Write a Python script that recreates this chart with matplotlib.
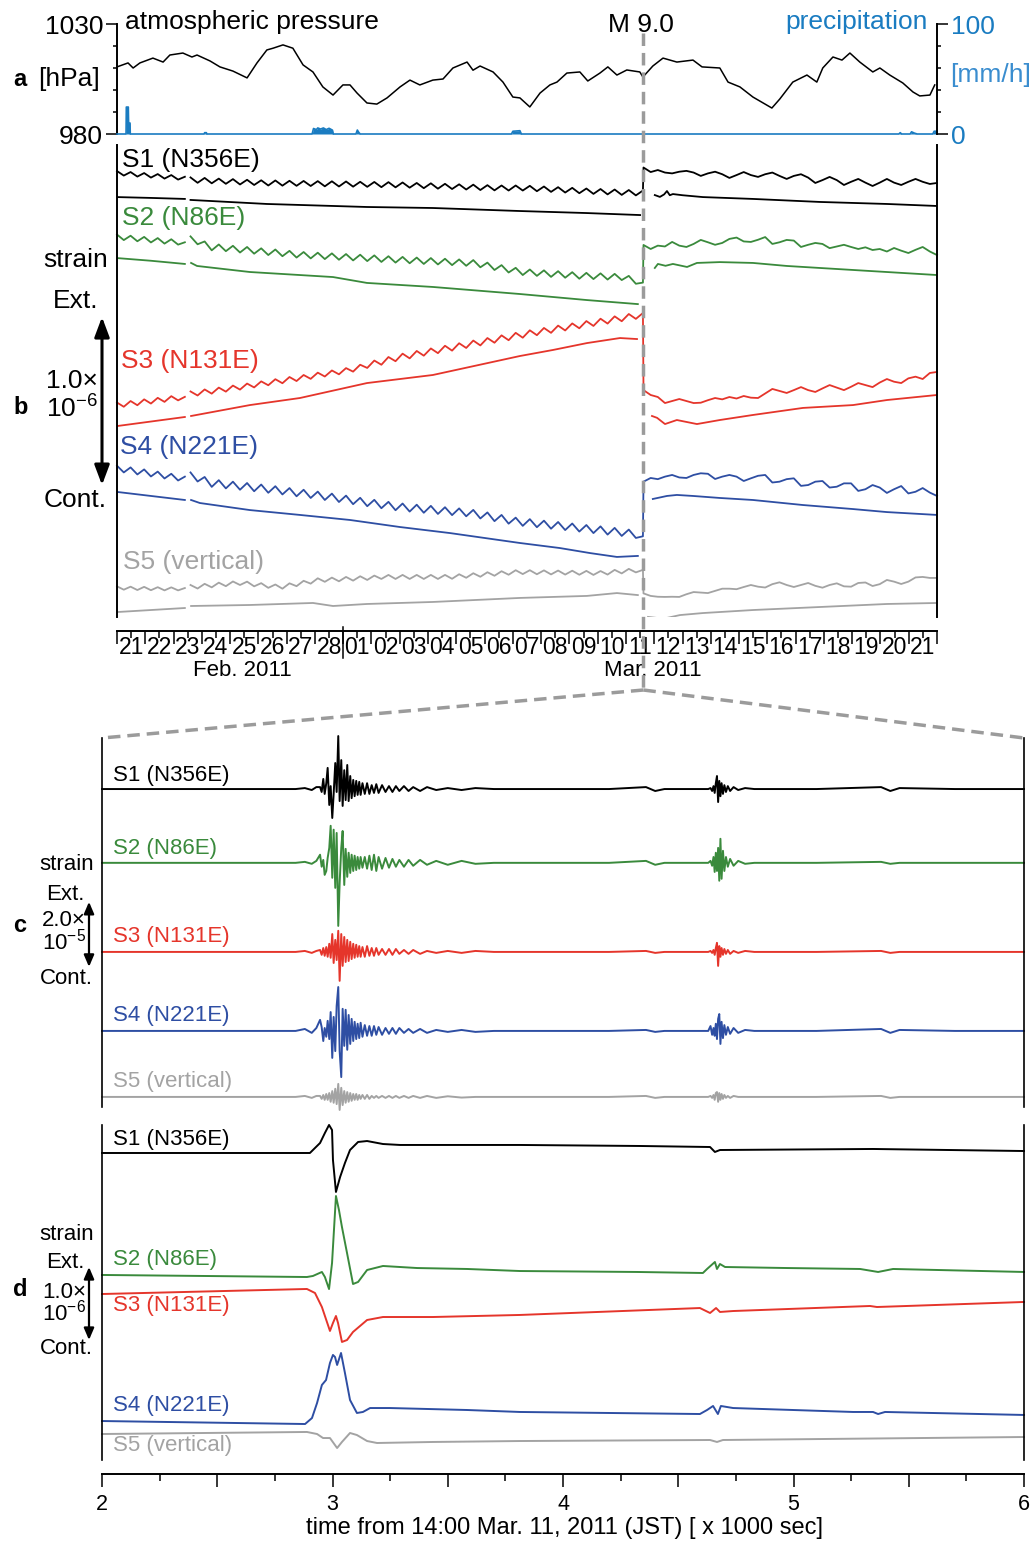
import numpy as np
import matplotlib
matplotlib.use("Agg")
import matplotlib.pyplot as plt
from matplotlib.lines import Line2D
import matplotlib.transforms as mtransforms

plt.rcParams["font.family"] = ["Liberation Sans", "DejaVu Sans"]
plt.rcParams["mathtext.fontset"] = "custom"
plt.rcParams["mathtext.rm"] = "Liberation Sans"
plt.rcParams["mathtext.it"] = "Liberation Sans:italic"
plt.rcParams["mathtext.bf"] = "Liberation Sans:bold"
plt.rcParams["lines.scale_dashes"] = False
plt.rcParams["axes.linewidth"] = 1.4

nan = float("nan")

# ---------------- data ----------------
# time origin of panels a/b: 00:00 Feb. 21, 2011 (days)
EQ_DAY = 18 + (14 + 46 / 60 + 18 / 3600) / 24   # M9.0, 14:46:18 JST Mar. 11

DAY_LABELS = ["21", "22", "23", "24", "25", "26", "27", "28", "01", "02",
              "03", "04", "05", "06", "07", "08", "09", "10", "11", "12",
              "13", "14", "15", "16", "17", "18", "19", "20", "21"]

NAMES = ["S1 (N356E)", "S2 (N86E)", "S3 (N131E)", "S4 (N221E)", "S5 (vertical)"]
COLORS = ["black", "#3a8a3c", "#e5352b", "#2e4ea3", "#a3a3a3"]
BLUE = "#1a7cc1"

# panel a: atmospheric pressure [hPa]
PRESS_DAY = [0, 0.39, 0.57, 0.81, 1.27, 1.63, 1.87, 2.33, 2.65, 2.83,
             3.29, 3.64, 4.10, 4.60, 4.95, 5.30, 5.52, 5.87, 6.22, 6.58,
             6.93, 7.28, 7.64, 7.99, 8.24, 8.49, 8.84, 9.19, 9.55, 10.01,
             10.36, 10.71, 11.17, 11.53, 11.88, 12.38, 12.59, 12.84, 13.30, 13.65,
             14.00, 14.25, 14.60, 14.96, 15.31, 15.56, 15.91, 16.37, 16.65, 17.08,
             17.36, 17.68, 18.03, 18.49, 18.60, 18.95, 19.31, 19.80, 20.37, 20.69,
             21.32, 21.61, 22.03, 22.49, 23.16, 23.44, 23.90, 24.40, 24.75, 24.96,
             25.32, 25.64, 25.92, 26.27, 26.73, 26.98, 27.33, 27.79, 28.15, 28.39,
             28.75, 28.92]
PRESS_HPA = [1010.5, 1012.3, 1010.0, 1012.3, 1014.5, 1012.7, 1015.9, 1016.8, 1015.0, 1015.9,
             1013.2, 1010.5, 1008.6, 1005.5, 1012.3, 1018.2, 1019.0, 1020.5, 1019.0, 1011.4,
             1008.2, 1001.4, 997.7, 1002.3, 1002.3, 998.6, 994.1, 993.6, 996.4, 1001.4,
             1004.5, 1002.3, 1004.5, 1005.0, 1010.0, 1012.7, 1009.0, 1010.9, 1008.2, 1003.6,
             996.8, 996.4, 992.3, 998.6, 1002.3, 1003.6, 1007.7, 1008.2, 1004.1, 1007.7,
             1010.5, 1006.8, 1009.1, 1008.2, 1005.9, 1010.9, 1014.5, 1012.7, 1013.6, 1010.5,
             1010.0, 1003.6, 1001.4, 996.8, 991.8, 995.9, 1003.6, 1006.8, 1003.6, 1010.0,
             1015.0, 1013.6, 1016.8, 1012.7, 1008.2, 1010.0, 1006.8, 1003.2, 999.1, 997.3,
             997.7, 1002.3]

# panel a: precipitation [mm/h]
PRECIP_DAY = [0.0, 0.32, 0.33, 0.40, 0.41, 0.46, 0.47, 3.08, 3.10, 3.16, 3.18,
              6.90, 6.95, 7.05, 7.10, 7.20, 7.30, 7.40, 7.50, 7.62, 7.65,
              8.45, 8.50, 8.55, 8.60, 13.95, 14.00, 14.25, 14.30,
              27.65, 27.70, 27.75, 28.05, 28.10, 28.20, 28.30, 28.85, 28.90, 29.0]
PRECIP_MM = [0, 0, 24.5, 24.5, 10, 10, 0, 0, 1.2, 1.2, 0,
             0, 5, 4, 5.5, 4.5, 5.5, 4, 5.2, 3.5, 0,
             0, 3.6, 1.5, 0, 0, 2.5, 3.0, 0,
             0, 1.2, 0, 0, 2.0, 0.8, 0, 0, 2.5, 2.5]

# panel b: strain [1e-8] sampled on three stretches (before the Feb. 23 gap,
# up to the quake, after the quake); raw (tidal) traces
DAY_A = np.linspace(0.0, 2.4, 11)
DAY_B = np.linspace(2.6, 18.6, 65)
DAY_C = np.linspace(18.62, 29.0, 42)

S1_UP_A = [271.4, 268.7, 270.8, 268.1, 270.2, 267.5, 269.6, 266.9, 269.0, 266.3, 268.0]
S1_UP_B = [267.6, 264.4, 267.3, 264.1, 266.9, 263.8, 266.6, 263.4, 266.2, 263.1,
           265.9, 262.8, 265.8, 262.7, 265.6, 262.6, 265.5, 262.5, 265.4, 262.3,
           265.3, 262.2, 265.2, 262.1, 265.0, 262.0, 264.9, 261.8, 264.8, 261.7,
           264.6, 261.5, 264.3, 261.2, 264.1, 260.9, 263.8, 260.7, 263.5, 260.4,
           263.3, 260.1, 263.0, 259.9, 262.8, 259.8, 262.8, 259.8, 262.6, 259.4,
           262.2, 259.0, 261.8, 258.6, 261.4, 258.2, 261.0, 257.8, 260.7, 257.5,
           260.4, 257.2, 260.1, 256.9, 259.8]
S1_UP_C = [273.5, 270.8, 272.0, 270.5, 270.0, 271.0, 271.5, 270.5, 268.5, 270.0,
           271.0, 269.5, 267.3, 269.0, 270.8, 269.0, 267.9, 269.5, 270.5, 268.5,
           266.7, 268.5, 269.5, 267.5, 264.3, 266.0, 267.9, 266.0, 263.1, 265.0,
           266.7, 264.5, 262.5, 264.5, 266.7, 264.5, 263.1, 265.0, 266.7, 265.0,
           263.7, 264.3]

S2_UP_A = [233.6, 230.3, 232.9, 229.6, 232.2, 228.9, 231.5, 228.2, 230.8, 227.6, 229.0]
S2_UP_B = [232.5, 227.8, 229.5, 224.2, 227.7, 223.7, 226.9, 222.9, 226.2, 222.2,
           225.4, 221.4, 224.7, 220.7, 223.9, 219.9, 223.2, 219.4, 222.8, 219.0,
           222.4, 218.6, 222.0, 218.2, 221.6, 217.8, 221.2, 217.3, 220.7, 216.9,
           220.3, 216.5, 219.9, 216.1, 219.6, 215.8, 219.2, 215.4, 218.8, 215.0,
           218.4, 214.1, 216.9, 212.5, 215.4, 211.0, 213.8, 209.5, 212.8, 209.0,
           212.3, 208.4, 211.8, 207.9, 211.2, 207.3, 210.8, 207.1, 210.5, 206.8,
           210.2, 206.5, 209.0, 204.3, 205.0]
S2_UP_C = [227.4, 225.0, 227.0, 226.5, 229.2, 227.0, 226.2, 228.0, 230.4, 229.0,
           227.5, 228.6, 231.0, 231.8, 229.5, 229.2, 230.5, 232.1, 228.0, 229.0,
           230.4, 230.0, 226.2, 227.5, 228.6, 228.0, 225.5, 226.5, 227.5, 226.2,
           225.0, 226.0, 224.4, 225.0, 223.5, 225.6, 224.0, 222.6, 224.5, 226.2,
           223.5, 221.4]

S3_UP_A = [133.6, 131.1, 134.5, 132.0, 135.5, 133.0, 136.4, 134.0, 137.4, 134.9, 137.0]
S3_UP_B = [140.2, 137.8, 141.4, 138.9, 142.5, 140.1, 143.7, 141.3, 144.9, 142.6,
           146.2, 143.9, 147.5, 145.1, 148.8, 146.4, 150.0, 147.7, 151.4, 149.1,
           152.7, 150.4, 154.1, 152.0, 156.1, 154.2, 158.6, 156.1, 160.7, 158.2,
           162.7, 159.9, 164.3, 161.5, 165.8, 163.0, 167.4, 164.5, 168.9, 166.1,
           170.5, 167.6, 172.0, 169.2, 173.6, 170.7, 175.1, 172.2, 176.6, 173.7,
           178.0, 175.1, 179.4, 176.5, 180.7, 177.8, 182.1, 179.2, 183.5, 180.6,
           184.9, 182.0, 186.3, 183.4, 186.9]
S3_UP_C = [141.0, 138.1, 136.9, 133.3, 134.5, 135.7, 134.5, 133.3, 133.5, 135.0,
           136.3, 135.5, 136.9, 136.0, 137.5, 136.5, 136.3, 139.0, 141.7, 140.5,
           139.3, 141.0, 142.8, 141.0, 139.9, 142.0, 144.0, 142.5, 141.0, 143.0,
           145.2, 144.0, 142.8, 145.5, 147.6, 146.0, 145.2, 148.0, 149.0, 147.6,
           151.2, 151.8]

S4_UP_A = [96.0, 92.0, 95.0, 90.8, 93.8, 89.6, 92.5, 88.4, 91.2, 87.2, 89.5]
S4_UP_B = [92.0, 86.6, 89.3, 83.4, 87.4, 82.5, 86.5, 81.7, 85.7, 80.8,
           84.8, 79.9, 83.8, 78.9, 82.7, 77.8, 81.7, 76.8, 80.6, 75.6,
           79.4, 74.4, 78.2, 73.1, 76.9, 71.9, 75.7, 70.7, 74.5, 69.5,
           73.5, 68.7, 72.8, 68.0, 72.1, 67.3, 71.3, 66.6, 70.6, 65.9,
           69.7, 64.6, 68.2, 63.0, 66.7, 61.5, 65.1, 60.2, 64.2, 59.4,
           63.3, 58.5, 62.5, 57.7, 61.6, 56.8, 60.7, 55.9, 59.9, 55.0,
           59.0, 54.2, 58.0, 53.0, 54.0]
S4_UP_C = [86.5, 88.7, 88.0, 89.5, 90.5, 89.0, 88.7, 90.5, 91.5, 91.2,
           88.1, 89.5, 90.5, 89.5, 86.9, 88.5, 90.0, 90.5, 86.0, 86.5,
           88.0, 88.5, 84.0, 84.5, 86.5, 86.9, 83.0, 83.5, 85.5, 85.5,
           81.0, 82.0, 84.5, 83.0, 79.8, 82.0, 83.9, 79.5, 80.5, 82.7,
           80.0, 78.0]

S5_UP_A = [24.2, 22.2, 24.0, 22.0, 23.9, 21.9, 23.7, 21.8, 23.6, 21.8, 23.2]
S5_UP_B = [25.0, 22.9, 25.7, 23.6, 26.4, 24.3, 27.1, 25.0, 27.0, 24.2,
           26.1, 23.3, 25.3, 22.8, 26.0, 24.3, 27.5, 25.8, 29.0, 26.9,
           29.4, 27.2, 29.8, 27.6, 30.2, 28.0, 30.6, 28.6, 31.0, 28.6,
           31.0, 28.6, 31.0, 28.6, 31.0, 28.6, 31.0, 28.7, 31.4, 29.3,
           32.0, 29.9, 32.6, 30.5, 33.2, 31.1, 33.8, 31.5, 33.8, 31.4,
           33.7, 31.3, 33.6, 31.2, 33.5, 31.1, 33.4, 31.0, 33.3, 31.2,
           34.0, 31.9, 34.6, 32.5, 34.0]
S5_UP_C = [20.0, 18.5, 18.0, 17.9, 18.0, 17.9, 19.5, 20.8, 20.5, 20.2,
           21.5, 22.8, 22.8, 22.5, 23.8, 25.0, 24.0, 23.5, 25.5, 26.6,
           25.0, 23.8, 25.0, 26.2, 24.5, 23.4, 25.0, 26.0, 24.2, 24.0,
           26.2, 26.5, 24.4, 25.5, 28.0, 27.0, 25.6, 27.0, 29.5, 29.8,
           29.2, 29.2]

# panel b: tide-corrected traces (nan = data gap)
S1_LO_DAY = [0.0, 1.2, 2.4, nan, 2.6, 5.3, 8.84, 11.17, 14.25, 16.6, 18.5, nan,
             19.02, 19.2, 19.35, 19.45, 19.55, 19.66, 20.0, 20.72, 22.49, 24.86, 27.23, 29.0]
S1_LO = [255.9, 255.4, 254.8, nan, 254.2, 251.8, 250.0, 249.4, 247.6, 246.4, 245.2, nan,
         257.1, 256.0, 257.5, 259.5, 257.0, 257.7, 257.0, 255.9, 254.8, 253.0, 251.8, 250.6]
S2_LO_DAY = [0.0, 1.2, 2.4, nan, 2.62, 2.83, 4.70, 7.64, 8.84, 11.17, 14.25, 16.62, 18.42, nan,
             19.02, 19.13, 19.4, 19.66, 20.16, 20.51, 21.32, 22.49, 23.69, 24.86, 26.63, 29.0]
S2_LO = [219.6, 218.0, 216.1, nan, 216.7, 214.9, 211.3, 208.3, 204.8, 202.4, 198.2, 194.6, 192.2, nan,
         213.7, 216.1, 215.0, 216.1, 214.3, 216.7, 217.2, 216.7, 214.9, 213.7, 211.9, 209.5]
S3_LO_DAY = [0.0, 1.2, 2.4, nan, 2.62, 4.70, 6.47, 8.84, 11.17, 14.25, 15.42, 16.62, 17.79, 18.39, nan,
             18.92, 19.1, 19.38, 19.80, 20.51, 21.32, 22.49, 24.26, 26.03, 27.23, 29.0]
S3_LO = [119.6, 122.3, 125.0, nan, 125.6, 132.1, 136.3, 145.2, 150.0, 161.3, 164.9, 169.0, 172.0, 171.4, nan,
         125.6, 124.5, 120.8, 123.2, 120.8, 123.2, 126.2, 130.4, 132.1, 135.1, 138.1]
S4_LO_DAY = [0.0, 1.2, 2.4, nan, 2.62, 2.93, 4.70, 6.47, 8.24, 10.01, 11.78, 14.25, 15.66, 16.73, 17.68, 18.42, nan,
             18.95, 19.45, 19.80, 20.37, 21.32, 22.49, 24.26, 26.03, 27.23, 29.0]
S4_LO = [80.4, 78.0, 75.6, nan, 75.6, 73.8, 69.6, 66.7, 63.7, 59.5, 55.9, 50.0, 47.0, 44.0, 41.7, 42.3, nan,
         76.2, 78.0, 78.6, 78.0, 76.8, 75.6, 72.6, 70.2, 68.4, 66.7]
S5_LO_DAY = [0.0, 1.2, 2.4, nan, 2.62, 4.70, 6.93, 7.64, 8.84, 11.17, 14.25, 16.62, 17.68, 18.42, nan,
             18.78, 19.09, 19.45, 19.91, 20.72, 22.49, 24.86, 27.23, 29.0]
S5_LO = [8.9, 10.1, 11.3, nan, 12.5, 13.1, 14.3, 12.5, 13.7, 14.9, 17.3, 18.5, 20.2, 19.0, nan,
         6.0, 5.4, 5.4, 7.1, 8.3, 10.1, 11.9, 13.7, 14.3]

UP = [(S1_UP_A, S1_UP_B, S1_UP_C), (S2_UP_A, S2_UP_B, S2_UP_C), (S3_UP_A, S3_UP_B, S3_UP_C),
      (S4_UP_A, S4_UP_B, S4_UP_C), (S5_UP_A, S5_UP_B, S5_UP_C)]
LO = [(S1_LO_DAY, S1_LO), (S2_LO_DAY, S2_LO), (S3_LO_DAY, S3_LO), (S4_LO_DAY, S4_LO), (S5_LO_DAY, S5_LO)]

# panel c: seismic strain [1e-6], time [x1000 s from 14:00]
C_TIME = ([2.0, 2.84, 2.88, 2.91, 2.93] +
          [2.946, 2.953, 2.960, 2.966, 2.973, 2.979, 2.986, 2.992, 2.999, 3.005,
           3.012, 3.018, 3.025, 3.031, 3.038, 3.044, 3.051, 3.057, 3.064, 3.070,
           3.077, 3.083, 3.090, 3.096, 3.103, 3.109, 3.116, 3.122, 3.130, 3.140,
           3.150, 3.160, 3.170, 3.180, 3.190, 3.200, 3.215, 3.230, 3.245, 3.260,
           3.275, 3.290, 3.310, 3.330, 3.350, 3.380, 3.410, 3.450, 3.500, 3.560,
           3.620] +
          [3.70, 3.85, 4.00, 4.20, 4.36, 4.40, 4.44, 4.60] +
          [4.630, 4.640, 4.647, 4.653, 4.658, 4.663, 4.668, 4.673, 4.678, 4.683,
           4.688, 4.694, 4.700, 4.707, 4.715, 4.725, 4.740, 4.760, 4.790, 4.830] +
          [4.90, 5.10, 5.38, 5.42, 5.46, 5.70, 6.00])

C_S1 = [0, 0, 0.3, -0.3, 0.6,
        0.6, -0.9, 3.1, -1.5, 1.8, 6.5, -4.9, 0.9, -8.9, -1.5,
        8.0, -0.9, 16.3, -3.7, 8.9, -5.2, 5.8, -3.4, 7.4, -3.7,
        4.0, -2.8, 2.8, -2.2, 2.5, -1.8, 2.2, -1.8, 1.8, -1.5,
        1.8, -1.5, 1.2, -1.2, 1.5, -1.2, 1.2, -0.9, 0.9, -0.9,
        0.9, -0.6, 0.9, -0.6, 0.6, -0.6, 0.6, -0.3, 0.3, -0.3,
        0.3,
        0, 0, 0, 0, 0.6, -0.6, 0, 0,
        0, 0.3, -0.6, 0.9, -1.2, 1.8, 4.0, -4.0, 2.5, -2.2,
        1.8, -1.5, 1.2, -0.9, 0.9, -0.6, 0.6, -0.3, 0.3, 0,
        0, 0, 0.6, -0.6, 0.3, 0, 0]
C_S2 = [0, 0, 0.3, -0.3, 0.6,
        2.5, -1.2, 0.9, -3.7, -2.5, 1.5, 4.6, 11.4, -4.6, 10.2,
        -7.7, 9.2, -19.4, -6.2, 4.6, 9.8, -6.8, 4.3, -4.3, 3.1,
        -3.1, 2.5, -2.5, 2.2, -2.2, 1.8, -1.8, 1.8, -1.5, 1.8,
        -1.8, 2.2, -2.2, 2.5, -2.5, 1.8, -1.8, 1.5, -1.5, 1.2,
        -1.2, 0.9, -1.2, 0.9, -0.9, 0.9, -0.6, 0.6, -0.6, 0.6,
        -0.3,
        0, 0, 0, 0, 0.6, -0.6, 0, 0,
        0, 0.6, -0.9, 1.8, -2.8, 3.1, -2.5, 4.6, -5.5, 7.4,
        -4.9, 3.7, -2.5, 1.8, -1.2, 1.2, -0.9, 0.6, -0.3, 0,
        0, 0, 0.3, -0.3, 0, 0, 0]
C_S3 = [0, 0, 0.3, -0.3, 0.3,
        0.6, -0.9, 1.2, -1.2, 1.5, -1.5, 2.5, -1.8, 5.5, -3.4,
        3.7, -2.5, 6.5, -8.9, 5.5, -4.3, 4.6, -3.1, 3.7, -2.8,
        3.1, -2.2, 2.5, -1.8, 2.2, -1.5, 1.8, -1.5, 1.5, -1.5,
        1.8, -1.2, 1.2, -1.2, 1.2, -0.9, 0.9, -0.9, 0.9, -0.9,
        0.9, -0.6, 0.6, -0.6, 0.6, -0.6, 0.3, -0.3, 0.3, -0.3,
        0.3,
        0, 0, 0, 0, 0.3, -0.3, 0, 0,
        0, 0.3, -0.3, 0.6, -0.9, 1.2, 2.8, -4.3, 1.8, -1.5,
        1.2, -0.9, 0.9, -0.6, 0.6, -0.6, 0.3, -0.3, 0.3, 0,
        0, 0, 0.3, -0.3, 0, 0, 0]
C_S4 = [0, 0, 0.6, -0.6, 0.9,
        3.4, 1.2, -3.1, 0.9, -1.8, 3.1, -2.5, 5.8, -8.3, 4.3,
        -6.2, 7.7, 13.5, -6.2, -14.2, 6.8, -4.6, 6.5, -5.8, 4.9,
        -4.0, 3.7, -3.1, 2.8, -2.5, 2.2, -2.2, 2.5, -1.8, 1.8,
        -1.5, 1.5, -1.5, 1.5, -1.2, 1.2, -1.2, 0.9, -0.9, 0.9,
        -0.9, 0.9, -0.6, 0.6, -0.6, 0.6, -0.6, 0.3, -0.3, 0.3,
        -0.3,
        0, 0, 0, 0, 0.3, -0.3, 0, 0,
        0, 1.5, -1.2, 0.9, -1.5, 2.2, -2.5, 3.7, 5.2, -4.0,
        2.8, -2.2, 1.8, -1.2, 1.2, -0.9, 0.9, -0.6, 0.3, 0,
        0, 0, 0.6, -0.6, 0.3, 0, 0]
C_S5 = [0, 0, 0.3, -0.3, 0.3,
        0.3, -0.6, 0.6, -0.9, 0.9, -0.9, 1.2, -1.5, 1.8, -1.8,
        2.5, -2.2, 4.0, -4.0, 2.8, -2.5, 1.8, -1.8, 1.5, -1.5,
        1.2, -1.2, 0.9, -0.9, 0.9, -0.9, 0.6, -0.6, 0.6, -0.6,
        0.6, -0.6, 0.3, -0.3, 0.3, -0.3, 0.3, -0.3, 0.3, -0.3,
        0.3, -0.3, 0.3, -0.3, 0.3, -0.3, 0.3, -0.3, 0.2, -0.2,
        0,
        0, 0, 0, 0, 0.3, -0.3, 0, 0,
        0, 0.3, -0.3, 0.6, -0.9, 1.2, 1.5, -1.5, 1.2, -0.9,
        0.9, -0.6, 0.6, -0.3, 0.3, -0.3, 0.3, 0, 0, 0,
        0, 0, 0.3, -0.3, 0, 0, 0]
C_TRACES = [C_S1, C_S2, C_S3, C_S4, C_S5]
C_OFFSET = [97.8, 75.1, 47.7, 23.4, 3.1]   # display offsets of the traces

# panel d: low-passed strain [1e-8]
D_S1_T = [2.0, 2.902, 2.946, 2.967, 2.985, 2.998, 3.002, 3.015, 3.033, 3.054, 3.076,
          3.111, 3.150, 3.219, 3.293, 3.813, 4.334, 4.638, 4.659, 4.681, 5.345, 6.0]
D_S1 = [434.3, 434.3, 448.0, 461.7, 472.7, 465.8, 424.7, 380.9, 401.4, 420.6, 438.4,
        449.4, 450.7, 446.6, 445.3, 445.3, 443.9, 442.5, 435.7, 438.4, 439.8, 437.0]
D_S2_T = [2.0, 2.889, 2.915, 2.954, 2.967, 2.985, 2.998, 3.015, 3.028, 3.041,
          3.063, 3.089, 3.111, 3.150, 3.219, 3.367, 3.584, 3.813, 4.321, 4.607,
          4.625, 4.659, 4.668, 4.681, 4.703, 4.972, 5.289, 5.367, 5.432, 6.0]
D_S2 = [267.2, 264.4, 265.8, 271.3, 264.4, 247.9, 283.6, 375.4, 356.2, 332.9,
        297.3, 254.8, 257.6, 274.0, 279.5, 276.7, 275.4, 272.6, 271.3, 269.9,
        275.4, 285.0, 275.4, 282.2, 278.1, 276.7, 275.4, 271.3, 275.4, 271.3]
D_S3_T = [2.0, 2.889, 2.924, 2.954, 2.989, 3.002, 3.015, 3.024, 3.041, 3.063,
          3.089, 3.150, 3.219, 3.436, 3.813, 4.594, 4.638, 4.664, 4.681, 4.738,
          5.332, 5.362, 6.0]
D_S3 = [241.1, 248.0, 242.5, 223.3, 190.5, 201.4, 211.0, 201.4, 175.4, 178.1,
        189.1, 205.5, 209.6, 209.6, 212.4, 221.9, 215.1, 221.9, 216.5, 217.8,
        224.7, 223.3, 230.2]
D_S4_T = [2.0, 2.881, 2.911, 2.933, 2.954, 2.972, 2.989, 3.002, 3.011, 3.020,
          3.037, 3.054, 3.076, 3.106, 3.132, 3.163, 3.249, 3.584, 3.813, 4.594,
          4.625, 4.651, 4.672, 4.685, 4.738, 5.258, 5.345, 5.367, 5.397, 6.0]
D_S4 = [67.1, 63.0, 71.2, 91.8, 116.5, 123.3, 146.6, 157.6, 154.8, 143.9,
        160.3, 132.9, 95.9, 78.1, 79.5, 84.9, 84.9, 82.2, 79.5, 76.7,
        82.2, 87.7, 76.7, 87.7, 84.9, 79.5, 79.5, 76.7, 79.5, 75.4]
D_S5_T = [2.0, 2.889, 2.933, 2.959, 2.989, 3.020, 3.041, 3.076, 3.106, 3.150,
          3.193, 3.436, 3.813, 4.638, 4.668, 4.694, 6.0]
D_S5 = [49.3, 52.1, 49.3, 43.8, 43.8, 30.1, 38.4, 50.7, 47.9, 39.7,
        37.0, 38.4, 39.7, 41.1, 38.4, 41.1, 45.2]
D_TRACES = [(D_S1_T, D_S1), (D_S2_T, D_S2), (D_S3_T, D_S3), (D_S4_T, D_S4), (D_S5_T, D_S5)]

# ---------------- figure ----------------
W, H = 1035, 1542
fig = plt.figure(figsize=(W / 100, H / 100), dpi=100)


def rect(left, top, right, bottom):
    return [left / W, 1 - bottom / H, (right - left) / W, (bottom - top) / H]


def put(x, y, s, size, ha="left", va="center", **kw):
    fig.text(x / W, 1 - y / H, s, fontsize=size, ha=ha, va=va, **kw)


def scale_arrow(ax, xfrac, ymid, half, lw, hw, hl):
    ax.annotate("", xy=(xfrac, ymid + half), xytext=(xfrac, ymid - half),
                xycoords=("axes fraction", "data"), textcoords=("axes fraction", "data"),
                arrowprops=dict(arrowstyle=f"<|-|>,head_width={hw},head_length={hl}",
                                lw=lw, color="black", shrinkA=0, shrinkB=0,
                                mutation_scale=10),
                annotation_clip=False)


# ---- panel a ----
ax_a = fig.add_axes(rect(117, 24, 937, 134))
ax_r = ax_a.twinx()
ax_r.fill_between(PRECIP_DAY, PRECIP_MM, 0, color=BLUE, lw=0, clip_on=False)
ax_r.plot(PRECIP_DAY, PRECIP_MM, color=BLUE, lw=1.2, clip_on=False)
ax_a.plot(PRESS_DAY, PRESS_HPA, color="black", lw=1.1)
ax_a.set_xlim(0, 29)
ax_a.set_ylim(980, 1030)
ax_r.set_ylim(0, 100)
for s in ("top", "bottom", "right"):
    ax_a.spines[s].set_visible(False)
for s in ("top", "bottom", "left"):
    ax_r.spines[s].set_visible(False)
ax_a.set_xticks([])
ax_a.set_yticks([980, 1030])
ax_a.set_yticks([990, 1000, 1010, 1020], minor=True)
ax_a.tick_params(axis="y", which="major", length=8, width=1.1, labelsize=19, pad=2)
ax_a.tick_params(axis="y", which="minor", length=3, width=1.1)
ax_r.set_yticks([0, 100])
ax_r.set_yticks([20, 40, 60, 80], minor=True)
ax_r.tick_params(axis="y", which="major", length=8, width=1.1, labelsize=19, pad=2,
                 labelcolor=BLUE)
ax_r.tick_params(axis="y", which="minor", length=3, width=1.1)

put(125, 22, "atmospheric pressure", 19)
put(928, 22, "precipitation", 19, ha="right", color=BLUE)
put(950, 75, "[mm/h]", 19, color="#3a8dcf")
put(100, 79, "[hPa]", 19, ha="right")
put(13, 80, "a", 17, weight="bold")

# ---- panel b ----
ax_b = fig.add_axes(rect(117, 145, 937, 617))
ax_b.set_xlim(0, 29)
ax_b.set_ylim(5.95, 286.9)
up_x = np.concatenate([DAY_A, [nan], DAY_B, DAY_C])
for (a, b, c), (lo_d, lo_v), col in zip(UP, LO, COLORS):
    assert len(a) == len(DAY_A) and len(b) == len(DAY_B) and len(c) == len(DAY_C)
    assert len(lo_d) == len(lo_v)
    ax_b.plot(up_x, np.concatenate([a, [nan], b, c]), color=col, lw=1.3, clip_on=False)
    ax_b.plot(lo_d, lo_v, color=col, lw=1.3)
ax_b.spines["top"].set_visible(False)
ax_b.spines["bottom"].set_position(("outward", 10))
ax_b.set_yticks([])
ax_b.set_xticks(range(0, 30))
ax_b.set_xticklabels([])
ax_b.set_xticks([d + 0.5 for d in range(29)], labels=DAY_LABELS, minor=True)
ax_b.tick_params(axis="x", which="major", length=9.4, width=1.1, direction="out")
ax_b.tick_params(axis="x", which="minor", length=5, width=1.1, direction="out",
                 pad=-1.2, labelsize=16.5)
bx = mtransforms.blended_transform_factory(ax_b.transData, ax_b.transAxes)
hb = 617 - 145
ax_b.plot([8, 8], [-10 / hb, -41 / hb], color="black", lw=1.1, transform=bx, clip_on=False)
ax_b.text(4.45, -43 / hb, "Feb. 2011", transform=bx, ha="center", va="top", fontsize=16)
ax_b.text(18.95, -43 / hb, "Mar. 2011", transform=bx, ha="center", va="top", fontsize=16)

for name, col, (x, y) in zip(NAMES, COLORS,
                             [(122, 160), (122, 218), (121, 361), (120, 447), (123, 562)]):
    put(x, y, name, 19, color=col)
put(108, 260, "strain", 19, ha="right")
put(98, 301, "Ext.", 19, ha="right")
put(46, 381, "1.0×", 19)
put(46, 409, r"10$^{-6}$", 19)
put(107, 500, "Cont.", 19, ha="right")
put(13, 408, "b", 17, weight="bold")
scale_arrow(ax_b, (102 - 117) / 820, 134.5, 50, 2.2, 0.45, 1.2)

# ---- panel c ----
ax_c = fig.add_axes(rect(102, 738, 1024, 1107))
ax_c.set_xlim(2, 6)
ax_c.set_ylim(0, 113.5)
for vals, off, col in zip(C_TRACES, C_OFFSET, COLORS):
    assert len(vals) == len(C_TIME)
    ax_c.plot(C_TIME, np.array(vals) + off, color=col, lw=1.4, clip_on=False)
for s in ("top", "bottom"):
    ax_c.spines[s].set_visible(False)
ax_c.spines["left"].set_linewidth(1.2)
ax_c.spines["right"].set_linewidth(1.2)
ax_c.set_xticks([])
ax_c.set_yticks([])
for name, col, y in zip(NAMES, COLORS, [775, 848, 937, 1016, 1081]):
    put(113, y, name, 16, color=col)
put(94, 864, "strain", 16, ha="right")
put(85, 894, "Ext.", 16, ha="right")
put(42, 921, "2.0×", 16)
put(42, 942, r"10$^{-5}$", 16)
put(93, 978, "Cont.", 16, ha="right")
put(13, 926, "c", 17, weight="bold")
scale_arrow(ax_c, (89 - 102) / 922, 53.1, 10, 1.6, 0.3, 0.7)

# ---- panel d ----
ax_d = fig.add_axes(rect(102, 1125, 1024, 1460))
ax_d.set_xlim(2, 6)
ax_d.set_ylim(13.7, 472.65)
for (t, v), col in zip(D_TRACES, COLORS):
    assert len(t) == len(v)
    ax_d.plot(t, v, color=col, lw=1.4, clip_on=False)
ax_d.spines["top"].set_visible(False)
ax_d.spines["bottom"].set_position(("outward", 10))
ax_d.spines["left"].set_linewidth(1.2)
ax_d.spines["right"].set_linewidth(1.2)
ax_d.set_yticks([])
ax_d.set_xticks([2, 2.5, 3, 3.5, 4, 4.5, 5, 5.5, 6],
                labels=["2", "", "3", "", "4", "", "5", "", "6"])
ax_d.set_xticks([2.25, 2.75, 3.25, 3.75, 4.25, 4.75, 5.25, 5.75], minor=True)
ax_d.tick_params(axis="x", which="major", length=9.4, width=1.1, labelsize=15.5, pad=5)
ax_d.tick_params(axis="x", which="minor", length=5, width=1.1)
for name, col, y in zip(NAMES, COLORS, [1139, 1260, 1306, 1406, 1446]):
    put(113, y, name, 16, color=col)
put(94, 1234, "strain", 16, ha="right")
put(85, 1263, "Ext.", 16, ha="right")
put(42, 1292, "1.0×", 16)
put(42, 1313, r"10$^{-6}$", 16)
put(93, 1348, "Cont.", 16, ha="right")
put(13, 1290, "d", 17, weight="bold")
scale_arrow(ax_d, (89 - 102) / 922, 228.1, 50, 1.6, 0.3, 0.7)
put(564, 1528, "time from 14:00 Mar. 11, 2011 (JST) [ x 1000 sec]", 17, ha="center")

# ---- mainshock marker and zoom connectors ----
x_eq = ax_b.transData.transform((EQ_DAY, 0))[0]
c_left = ax_c.transAxes.transform((0, 1))
c_right = ax_c.transAxes.transform((1, 1))
knee = (x_eq, H - 690)
dash = dict(color="#9b9b9b", lw=2.5, linestyle=(0, (9, 5)), zorder=6,
            transform=fig.transFigure)
fig.add_artist(Line2D([x_eq / W, x_eq / W], [(H - 33) / H, knee[1] / H], **dash))
for corner in (c_left, c_right):
    fig.add_artist(Line2D([knee[0] / W, corner[0] / W], [knee[1] / H, corner[1] / H], **dash))
put(x_eq - 2, 25, "M 9.0", 19, ha="center")

fig.savefig("out.png", dpi=100)
